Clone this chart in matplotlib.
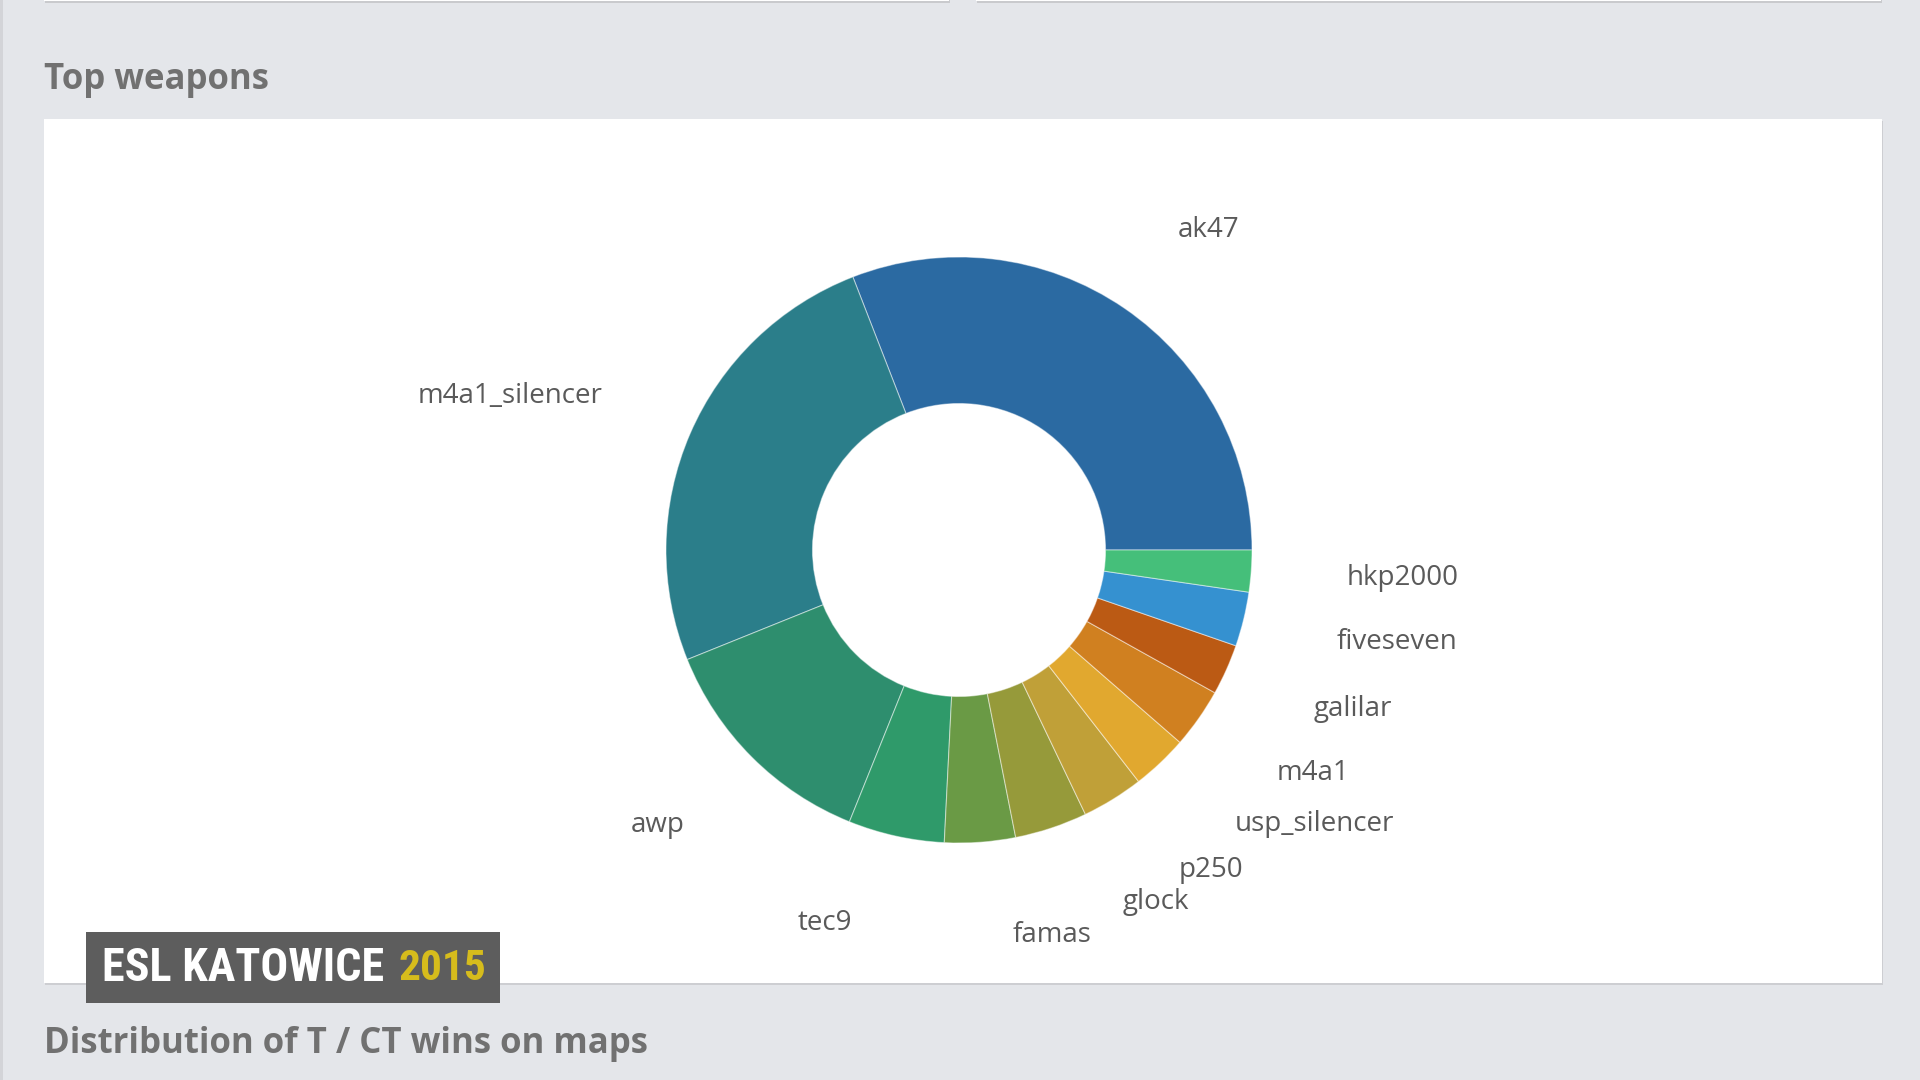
import matplotlib
matplotlib.use('Agg')
from matplotlib import pyplot as plt
from matplotlib.patches import Rectangle
from matplotlib import font_manager
import numpy as np

# share of kills per weapon (%)
weapons = ['ak47', 'm4a1_silencer', 'awp', 'tec9', 'famas', 'glock',
           'p250', 'usp_silencer', 'm4a1', 'galilar', 'fiveseven', 'hkp2000']
shares = [30.9, 25.2, 12.8, 5.3, 3.9, 4.0, 3.4, 3.1, 3.3, 2.8, 3.0, 2.3]
colors = ['#2b6aa2', '#2b7e8a', '#2e8e6e', '#2f9a6a', '#6a9a45', '#969a3a',
          '#c0a038', '#e1a82f', '#d08020', '#bb5a14', '#3591d0', '#45bf7a']

# small angular nudges (deg) the dashboard applied to crowded labels
label_nudge = {'tec9': -3.6, 'famas': 3.8, 'glock': 6.5, 'p250': 2.7,
               'usp_silencer': 1.8}

title_top = 'Top weapons'
title_next = 'Distribution of T / CT wins on maps'

W, H = 1920, 1080
bg = '#e4e6ea'

fig = plt.figure(figsize=(W / 100, H / 100), dpi=100, facecolor=bg)


def box(x0, y0, x1, y1, z=-5, **kw):
    # rectangle given in screen pixels (y down)
    r = Rectangle((x0 / W, 1 - y1 / H), (x1 - x0) / W, (y1 - y0) / H,
                  transform=fig.transFigure, zorder=z, **kw)
    fig.add_artist(r)
    return r


# panels above (only the bottom edges show)
for x0, x1 in [(44, 949), (976, 1881)]:
    box(x0 + 1, -10, x1 + 1, 3, facecolor='#c9cacd', edgecolor='none')
    box(x0, -10, x1, 1, facecolor='white', edgecolor='none')

# main panel with a soft shadow
box(45, 121, 1883, 985, facecolor='#cdced2', edgecolor='none')
box(44, 119, 1882, 983, facecolor='white', edgecolor='none')

# left border strip
box(0, 0, 3, 1080, facecolor='#d3d4d8', edgecolor='none')

fig.text(44 / W, 1 - 80 / H, title_top, fontsize=25, fontweight='bold',
         family='Open Sans', color='#717171', va='center', ha='left')
fig.text(44 / W, 1 - 1044 / H, title_next, fontsize=25, fontweight='bold',
         family='Open Sans', color='#717171', va='center', ha='left')

# donut: centre at (959, 550) px, outer radius 293 px
R = 293
L = 1.8
LD = 1.325
side = 2 * L * R
ax = fig.add_axes([(959 - side / 2) / W, (H - 550 - side / 2) / H, side / W, side / H])
wedges, texts = ax.pie(shares, labels=weapons, colors=colors, startangle=0,
                       counterclock=True, labeldistance=LD,
                       wedgeprops=dict(width=0.5, edgecolor=(1, 1, 1, 0.45), linewidth=0.8),
                       textprops=dict(fontsize=20, family='Open Sans', color='#5a5a5a'))
for w, t in zip(wedges, texts):
    name = t.get_text()
    if name in label_nudge:
        ang = np.deg2rad((w.theta1 + w.theta2) / 2 + label_nudge[name])
        t.set_position((LD * np.cos(ang), LD * np.sin(ang)))
ax.set_xlim(-L, L)
ax.set_ylim(-L, L)
ax.set_aspect('equal')
ax.axis('off')

# event watermark
names = {f.name for f in font_manager.fontManager.ttflist}
logo_font = 'DejaVu Sans'
for cand in ['Roboto Condensed', 'Liberation Sans Narrow', 'DejaVu Sans Condensed',
             'Open Sans Condensed']:
    if cand in names:
        logo_font = cand
        break

box(86, 932, 500, 1003, z=5, facecolor='#5d5d5d', edgecolor='none')
t1 = fig.text(102 / W, 1 - 968 / H, 'ESL KATOWICE', fontsize=30, fontweight='bold',
              family=logo_font, color='white', va='center', ha='left', zorder=6)
t2 = fig.text(486 / W, 1 - 968 / H, '2015', fontsize=30, fontweight='bold',
              family=logo_font, color='#d6bc1c', va='center', ha='right', zorder=6)
fig.canvas.draw()
w1 = t1.get_window_extent().width
w2 = t2.get_window_extent().width
t1.set_fontsize(30 * 282 / w1)
t2.set_fontsize(30 * 88 / w2)

fig.savefig('out.png', dpi=100, facecolor=bg)
